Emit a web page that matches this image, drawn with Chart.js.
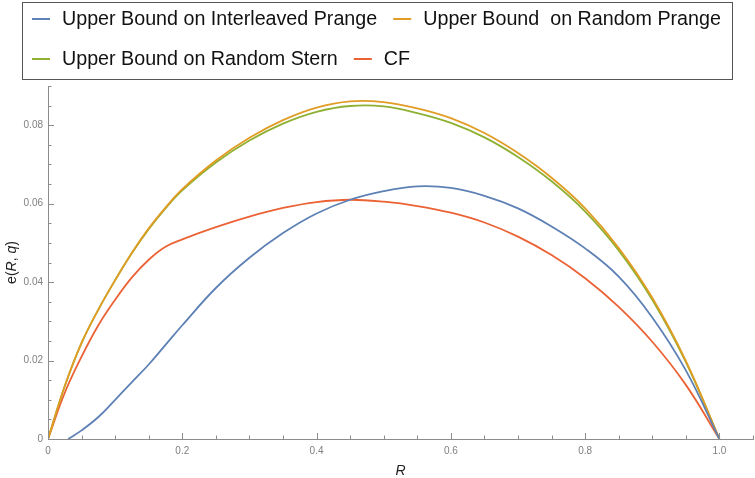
<!DOCTYPE html>
<html>
<head>
<meta charset="utf-8">
<script src="https://cdn.jsdelivr.net/npm/chart.js@4.4.1/dist/chart.umd.min.js"></script>
<style>
  html, body { margin: 0; padding: 0; background: #fff; }
  #wrap { width: 755px; height: 478px; }
</style>
</head>
<body>
<div id="wrap"><canvas id="c"></canvas></div>
<script>
// rate grid shared by three curves
const rates = [0, 0.025, 0.05, 0.075, 0.1, 0.125, 0.15, 0.175, 0.2, 0.25, 0.3, 0.35, 0.4, 0.45, 0.5,
               0.55, 0.6, 0.65, 0.7, 0.75, 0.8, 0.85, 0.9, 0.95, 1.0];

const randomPrange = [0, 0.0135, 0.0245, 0.033, 0.0405, 0.0475, 0.0537, 0.059, 0.0637, 0.071, 0.0768,
                      0.0813, 0.0845, 0.0861, 0.0859, 0.0843, 0.0818, 0.078, 0.0729, 0.0666, 0.0588,
                      0.0487, 0.036, 0.0199, 0];

const randomStern = [0, 0.0135, 0.0245, 0.033, 0.0405, 0.0474, 0.0535, 0.0588, 0.0634, 0.0705, 0.0761,
                     0.0804, 0.0834, 0.0849, 0.0848, 0.0831, 0.0806, 0.0769, 0.0719, 0.0657, 0.058,
                     0.0481, 0.0355, 0.0196, 0];

const cf = [0, 0.0118, 0.021, 0.029, 0.0355, 0.0412, 0.0457, 0.049, 0.0509, 0.054, 0.0567, 0.0589,
            0.0604, 0.061, 0.0605, 0.0594, 0.0577, 0.0552, 0.0516, 0.0469, 0.041, 0.0337, 0.0248,
            0.0138, 0];

// interleaved curve only starts above zero around R = 0.03
const interleavedRates = [0.03, 0.05, 0.075, 0.1, 0.125, 0.15, 0.175, 0.2, 0.25, 0.3, 0.35, 0.4, 0.45,
                          0.5, 0.55, 0.6, 0.65, 0.7, 0.75, 0.8, 0.85, 0.9, 0.95, 1.0];
const interleavedPrange = [0, 0.0022, 0.0056, 0.01, 0.0145, 0.019, 0.024, 0.029, 0.0385, 0.0462,
                           0.0525, 0.0575, 0.061, 0.0632, 0.0644, 0.064, 0.062, 0.0588, 0.0542, 0.0486,
                           0.0414, 0.031, 0.0175, 0];

const xTickLabels = ['0', '0.2', '0.4', '0.6', '0.8', '1.0'];
const yTickLabels = ['0', '0.02', '0.04', '0.06', '0.08'];

const labels = ['Upper Bound on Interleaved Prange', 'Upper Bound  on Random Prange',
                'Upper Bound on Random Stern', 'CF'];
const colors = ['#5E81B5', '#E19C24', '#8FB032', '#EB6235'];

const pts = (xs, ys) => xs.map((x, i) => ({ x: x, y: ys[i] }));

const FONT = "'Liberation Sans', Arial, sans-serif";

// minor/major ticks pointing inward, plus legend box and axis titles
const decor = {
  id: 'decor',
  afterDraw(chart) {
    const ctx = chart.ctx;
    const xs = chart.scales.x, ys = chart.scales.y;
    const a = chart.chartArea;
    ctx.save();
    ctx.strokeStyle = '#8c8c8c';
    ctx.lineWidth = 1;
    ctx.beginPath();
    for (let i = 0; i <= 21; i++) {
      const px = Math.round(xs.getPixelForValue(i * 0.05)) + 0.5;
      const len = i % 4 === 0 ? 6 : 3.5;
      ctx.moveTo(px, a.bottom);
      ctx.lineTo(px, a.bottom - len);
    }
    for (let i = 0; i <= 18; i++) {
      const py = Math.round(ys.getPixelForValue(i * 0.005)) + 0.5;
      const len = i % 4 === 0 ? 6 : 3.5;
      ctx.moveTo(a.left, py);
      ctx.lineTo(a.left + len, py);
    }
    ctx.stroke();

    // legend
    ctx.strokeStyle = '#555';
    ctx.strokeRect(22.5, 2.5, 710, 77);
    ctx.font = '19.7px ' + FONT;
    ctx.textBaseline = 'middle';
    ctx.fillStyle = '#111';
    const rows = [[0, 1], [2, 3]];
    const rowY = [19, 59];
    rows.forEach((row, r) => {
      let x = 32;
      row.forEach(i => {
        ctx.strokeStyle = colors[i];
        ctx.lineWidth = 2;
        ctx.beginPath();
        ctx.moveTo(x, rowY[r]);
        ctx.lineTo(x + 18, rowY[r]);
        ctx.stroke();
        ctx.fillText(labels[i], x + 30, rowY[r] + 1);
        x += 30 + ctx.measureText(labels[i]).width + 16;
      });
    });

    // axis titles with italic variables
    const parts = [['e(', ''], ['R', 'italic '], [', ', ''], ['q', 'italic '], [')', '']];
    ctx.fillStyle = '#222';
    let total = 0;
    parts.forEach(p => { ctx.font = p[1] + '14px ' + FONT; total += ctx.measureText(p[0]).width; });
    ctx.translate(12, (a.top + a.bottom) / 2);
    ctx.rotate(-Math.PI / 2);
    let cx = -total / 2;
    ctx.textAlign = 'left';
    parts.forEach(p => {
      ctx.font = p[1] + '14px ' + FONT;
      ctx.fillText(p[0], cx, 0);
      cx += ctx.measureText(p[0]).width;
    });
    ctx.setTransform(1, 0, 0, 1, 0, 0);
    ctx.font = 'italic 14px ' + FONT;
    ctx.textAlign = 'center';
    ctx.fillText('R', (a.left + a.right) / 2, 471);
    ctx.restore();
  }
};

new Chart(document.getElementById('c'), {
  type: 'line',
  data: {
    datasets: [
      { label: labels[0], data: pts(interleavedRates, interleavedPrange), borderColor: colors[0] },
      { label: labels[1], data: pts(rates, randomPrange), borderColor: colors[1] },
      { label: labels[2], data: pts(rates, randomStern), borderColor: colors[2] },
      { label: labels[3], data: pts(rates, cf), borderColor: colors[3] }
    ]
  },
  options: {
    animation: false,
    responsive: true,
    maintainAspectRatio: false,
    devicePixelRatio: 1,
    layout: { padding: { top: 86, right: 2, left: 0, bottom: 0 } },
    elements: {
      line: { borderWidth: 1.8, tension: 0.4, fill: false },
      point: { radius: 0 }
    },
    plugins: { legend: { display: false }, tooltip: { enabled: false } },
    scales: {
      x: {
        type: 'linear', min: 0, max: 1.05,
        grid: { display: false, drawTicks: false },
        border: { display: true, color: '#8c8c8c', width: 1 },
        afterBuildTicks: s => { s.ticks = xTickLabels.map(t => ({ value: parseFloat(t) })); },
        afterFit: s => { s.height = 39; },
        ticks: {
          autoSkip: false, maxRotation: 0, padding: 6,
          color: '#7f7f7f', font: { family: FONT, size: 10 },
          callback: (v, i) => xTickLabels[i]
        }
      },
      y: {
        type: 'linear', min: 0, max: 0.09,
        grid: { display: false, drawTicks: false },
        border: { display: true, color: '#8c8c8c', width: 1 },
        afterBuildTicks: s => { s.ticks = yTickLabels.map(t => ({ value: parseFloat(t) })); },
        afterFit: s => { s.width = 48; },
        ticks: {
          autoSkip: false, padding: 5,
          color: '#7f7f7f', font: { family: FONT, size: 10 },
          callback: (v, i) => yTickLabels[i]
        }
      }
    }
  },
  plugins: [decor]
});
</script>
</body>
</html>
